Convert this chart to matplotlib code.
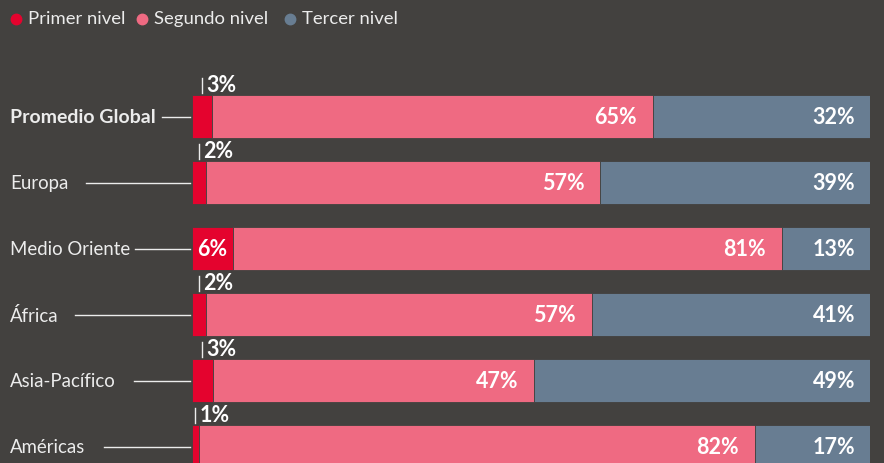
import matplotlib
matplotlib.use("Agg")
import matplotlib.pyplot as plt
import matplotlib.transforms as mtransforms
from matplotlib.lines import Line2D

regions = ["Promedio Global", "Europa", "Medio Oriente", "África", "Asia-Pacífico", "Américas"]
primer = [3, 2, 6, 2, 3, 1]
segundo = [65, 57, 81, 57, 47, 82]
tercer = [32, 39, 13, 41, 49, 17]
series_names = ["Primer nivel", "Segundo nivel", "Tercer nivel"]

BG = "#43413f"
C1, C2, C3 = "#e4032e", "#ef6a82", "#687d92"
TXT = "#ececec"
FONT = ["Lato", "DejaVu Sans"]
plt.rcParams["font.family"] = FONT

W, H = 884, 463
fig = plt.figure(figsize=(W / 100, H / 100), dpi=100, facecolor=BG)
left_px, right_px = 192, 870
ax = fig.add_axes([left_px / W, 0, (right_px - left_px) / W, 1])
ax.set_facecolor(BG)
for s in ax.spines.values():
    s.set_visible(False)
ax.set_xticks([])
ax.set_yticks([])

pitch = 66.0
first_center = 116.5
ax.set_xlim(0, 100)
ax.set_ylim((H - first_center) / pitch, -first_center / pitch)
bh = 43 / pitch
px = 1 / pitch  # one pixel in y data units

totals = [a + b + c for a, b, c in zip(primer, segundo, tercer)]
n1 = [a / t * 100 for a, t in zip(primer, totals)]
n2 = [b / t * 100 for b, t in zip(segundo, totals)]
n3 = [c / t * 100 for c, t in zip(tercer, totals)]
y = list(range(len(regions)))

kw = dict(height=bh, edgecolor=BG, linewidth=0.6)
ax.barh(y, n1, color=C1, **kw)
ax.barh(y, n2, left=n1, color=C2, **kw)
ax.barh(y, n3, left=[a + b for a, b in zip(n1, n2)], color=C3, **kw)

VS = 15.5
xpx = 100 / (right_px - left_px)  # one pixel in x data units
for i in y:
    e2 = n1[i] + n2[i]
    ax.text(e2 - 16 * xpx, i + 1 * px, f"{segundo[i]}%", ha="right", va="center",
            color="white", fontsize=VS, fontweight="bold")
    ax.text(100 - 15 * xpx, i + 1 * px, f"{tercer[i]}%", ha="right", va="center",
            color="white", fontsize=VS, fontweight="bold")
    if primer[i] >= 5:
        ax.text(n1[i] / 2, i + 1 * px, f"{primer[i]}%", ha="center", va="center",
                color="white", fontsize=VS, fontweight="bold")
    else:
        xc = n1[i] / 2
        top = i - bh / 2
        ax.plot([xc, xc], [top - 2 * px, top - 17 * px], color=TXT, lw=1, clip_on=False)
        ax.text(xc + 4 * xpx, top - 3 * px, f"{primer[i]}%", ha="left", va="baseline",
                color="white", fontsize=VS, fontweight="bold")

trans = mtransforms.blended_transform_factory(fig.transFigure, ax.transData)
line_start = [162, 86, 135, 75, 134, 104]
for i, name in enumerate(regions):
    bold = i == 0
    ax.text(10 / W, i + 1 * px, name, transform=trans, ha="left", va="center", color=TXT,
            fontsize=14 if bold else 13.4, fontweight="bold" if bold else "normal",
            clip_on=False)
    ax.add_line(Line2D([line_start[i] / W, 190 / W], [i, i], transform=trans,
                       color=TXT, lw=1, clip_on=False))

leg_x = [16, 142, 290]
for xpos, name, c in zip(leg_x, series_names, [C1, C2, C3]):
    fig.add_artist(Line2D([xpos / W], [1 - 19 / H], marker="o", markersize=7.5,
                          color=c, linestyle="none", transform=fig.transFigure))
    fig.text((xpos + 12) / W, 1 - 19 / H, name, ha="left", va="center",
             color=TXT, fontsize=13.3)

fig.savefig("out.png", dpi=100, facecolor=BG)
